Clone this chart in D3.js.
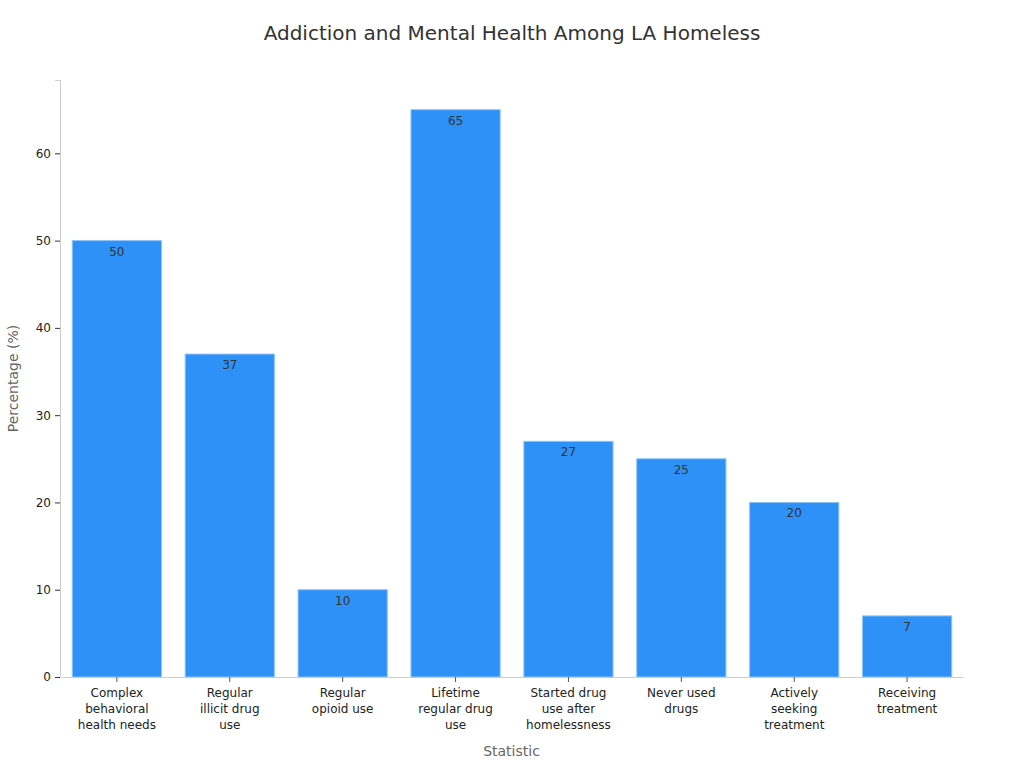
<!DOCTYPE html>
<html>
<head>
<meta charset="utf-8">
<script src="https://cdn.jsdelivr.net/npm/d3@7"></script>
<style>
  body { margin: 0; background: #fff; font-family: "DejaVu Sans", sans-serif; }
</style>
</head>
<body>
<div id="chart"></div>
<script>
var categories = [
  ["Complex", "behavioral", "health needs"],
  ["Regular", "illicit drug", "use"],
  ["Regular", "opioid use"],
  ["Lifetime", "regular drug", "use"],
  ["Started drug", "use after", "homelessness"],
  ["Never used", "drugs"],
  ["Actively", "seeking", "treatment"],
  ["Receiving", "treatment"]
];
var values = [50, 37, 10, 65, 27, 25, 20, 7];
var yTicks = [0, 10, 20, 30, 40, 50, 60];

var width = 1024,
    height = 768,
    margin = {top: 80, right: 61, bottom: 91, left: 60};

var svg = d3.select("#chart").append("svg")
    .attr("width", width)
    .attr("height", height);

var keys = categories.map(function(d, i) { return i; });

var x = d3.scaleBand()
    .domain(keys)
    .range([margin.left + 1, width - margin.right])
    .paddingInner(0.21)
    .paddingOuter(0.1);

var y = d3.scaleLinear()
    .domain([0, 68.4])
    .range([height - margin.bottom, margin.top]);

// title
svg.append("text")
    .attr("x", width / 2)
    .attr("y", 40)
    .attr("text-anchor", "middle")
    .attr("fill", "#333")
    .style("font-size", "20px")
    .text("Addiction and Mental Health Among LA Homeless");

// bars
svg.selectAll("rect.bar")
    .data(values)
    .enter().append("rect")
    .attr("class", "bar")
    .attr("x", function(d, i) { return x(i); })
    .attr("y", function(d) { return y(d); })
    .attr("width", x.bandwidth())
    .attr("height", function(d) { return y(0) - y(d); })
    .attr("fill", "#2e91f7")
    .attr("stroke", "#8cc3f9")
    .attr("stroke-width", 1);

// value labels
svg.selectAll("text.val")
    .data(values)
    .enter().append("text")
    .attr("class", "val")
    .attr("x", function(d, i) { return x(i) + x.bandwidth() / 2; })
    .attr("y", function(d) { return y(d) + 15; })
    .attr("text-anchor", "middle")
    .attr("fill", "#333")
    .style("font-size", "12px")
    .text(function(d) { return d; });

// y axis
var yAxis = svg.append("g")
    .attr("transform", "translate(" + margin.left + ",0)")
    .call(d3.axisLeft(y).tickValues(yTicks).tickSize(5).tickPadding(4));
yAxis.select(".domain").attr("stroke", "#ccc");
yAxis.selectAll(".tick line").attr("stroke", "#333");
yAxis.selectAll(".tick text")
    .attr("fill", "#222")
    .style("font-family", "DejaVu Sans, sans-serif")
    .style("font-size", "12px");

// x axis
var xAxis = svg.append("g")
    .attr("transform", "translate(0," + (height - margin.bottom) + ")")
    .call(d3.axisBottom(x).tickSize(5).tickSizeOuter(0).tickFormat(""));
xAxis.select(".domain").attr("stroke", "#ccc");
xAxis.selectAll(".tick line").attr("stroke", "#555");

xAxis.selectAll(".tick").each(function(d) {
  var t = d3.select(this).append("text")
      .attr("text-anchor", "middle")
      .attr("fill", "#222")
      .style("font-size", "12px")
      .style("font-family", "DejaVu Sans, sans-serif");
  categories[d].forEach(function(line, j) {
    t.append("tspan")
        .attr("x", 0)
        .attr("y", 20 + j * 16)
        .text(line);
  });
});

// axis titles
svg.append("text")
    .attr("x", (margin.left + width - margin.right) / 2)
    .attr("y", 756)
    .attr("text-anchor", "middle")
    .attr("fill", "#666")
    .style("font-size", "14px")
    .text("Statistic");

svg.append("text")
    .attr("transform", "translate(18," + ((margin.top + height - margin.bottom) / 2) + ") rotate(-90)")
    .attr("text-anchor", "middle")
    .attr("fill", "#666")
    .style("font-size", "14px")
    .text("Percentage (%)");
</script>
</body>
</html>
